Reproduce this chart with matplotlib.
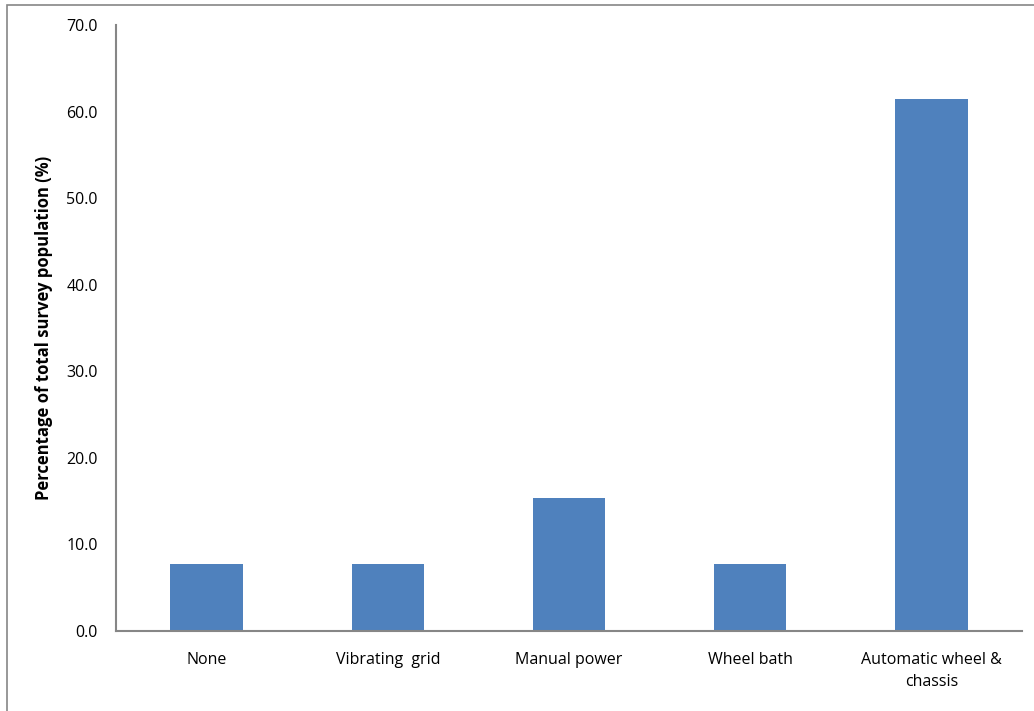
import numpy as np
import matplotlib.pyplot as plt
from matplotlib.patches import Rectangle

categories = ["None", "Vibrating  grid", "Manual power", "Wheel bath", "Automatic wheel &\nchassis"]
percent = [7.7, 7.7, 15.4, 7.7, 61.5]
yticks = [0, 10, 20, 30, 40, 50, 60, 70]

plt.rcParams["font.family"] = ["Open Sans", "DejaVu Sans"]
plt.rcParams["font.size"] = 11.5

fig = plt.figure(figsize=(10.34, 7.11), dpi=100)
ax = fig.add_axes([116/1034, 1-631/711, (1022-116)/1034, (631-25)/711])

x = np.arange(len(categories))
ax.bar(x, percent, width=0.4, color="#4F81BD", zorder=2)

ax.set_xlim(-0.5, len(categories)-0.5)
ax.set_ylim(0, 70)
ax.set_yticks(yticks)
ax.set_yticklabels(["%.1f" % v for v in yticks])
ax.set_xticks(x)
ax.set_xticklabels(categories, linespacing=1.55)
ax.tick_params(axis="y", length=0, pad=13)
ax.tick_params(axis="x", length=0, pad=15)

for s in ["top", "right"]:
    ax.spines[s].set_visible(False)
for s in ["left", "bottom"]:
    ax.spines[s].set_color("#868686")
    ax.spines[s].set_linewidth(1.5)

ax.set_ylabel("Percentage of total survey population (%)", fontweight="bold",
              fontsize=12, labelpad=10)

# outer chart border
fig.add_artist(Rectangle((7/1034, -0.1), 1.2, 1-5/711+0.1, transform=fig.transFigure,
                         fill=False, edgecolor="#868686", linewidth=1.2))

fig.savefig("out.png", dpi=100)
